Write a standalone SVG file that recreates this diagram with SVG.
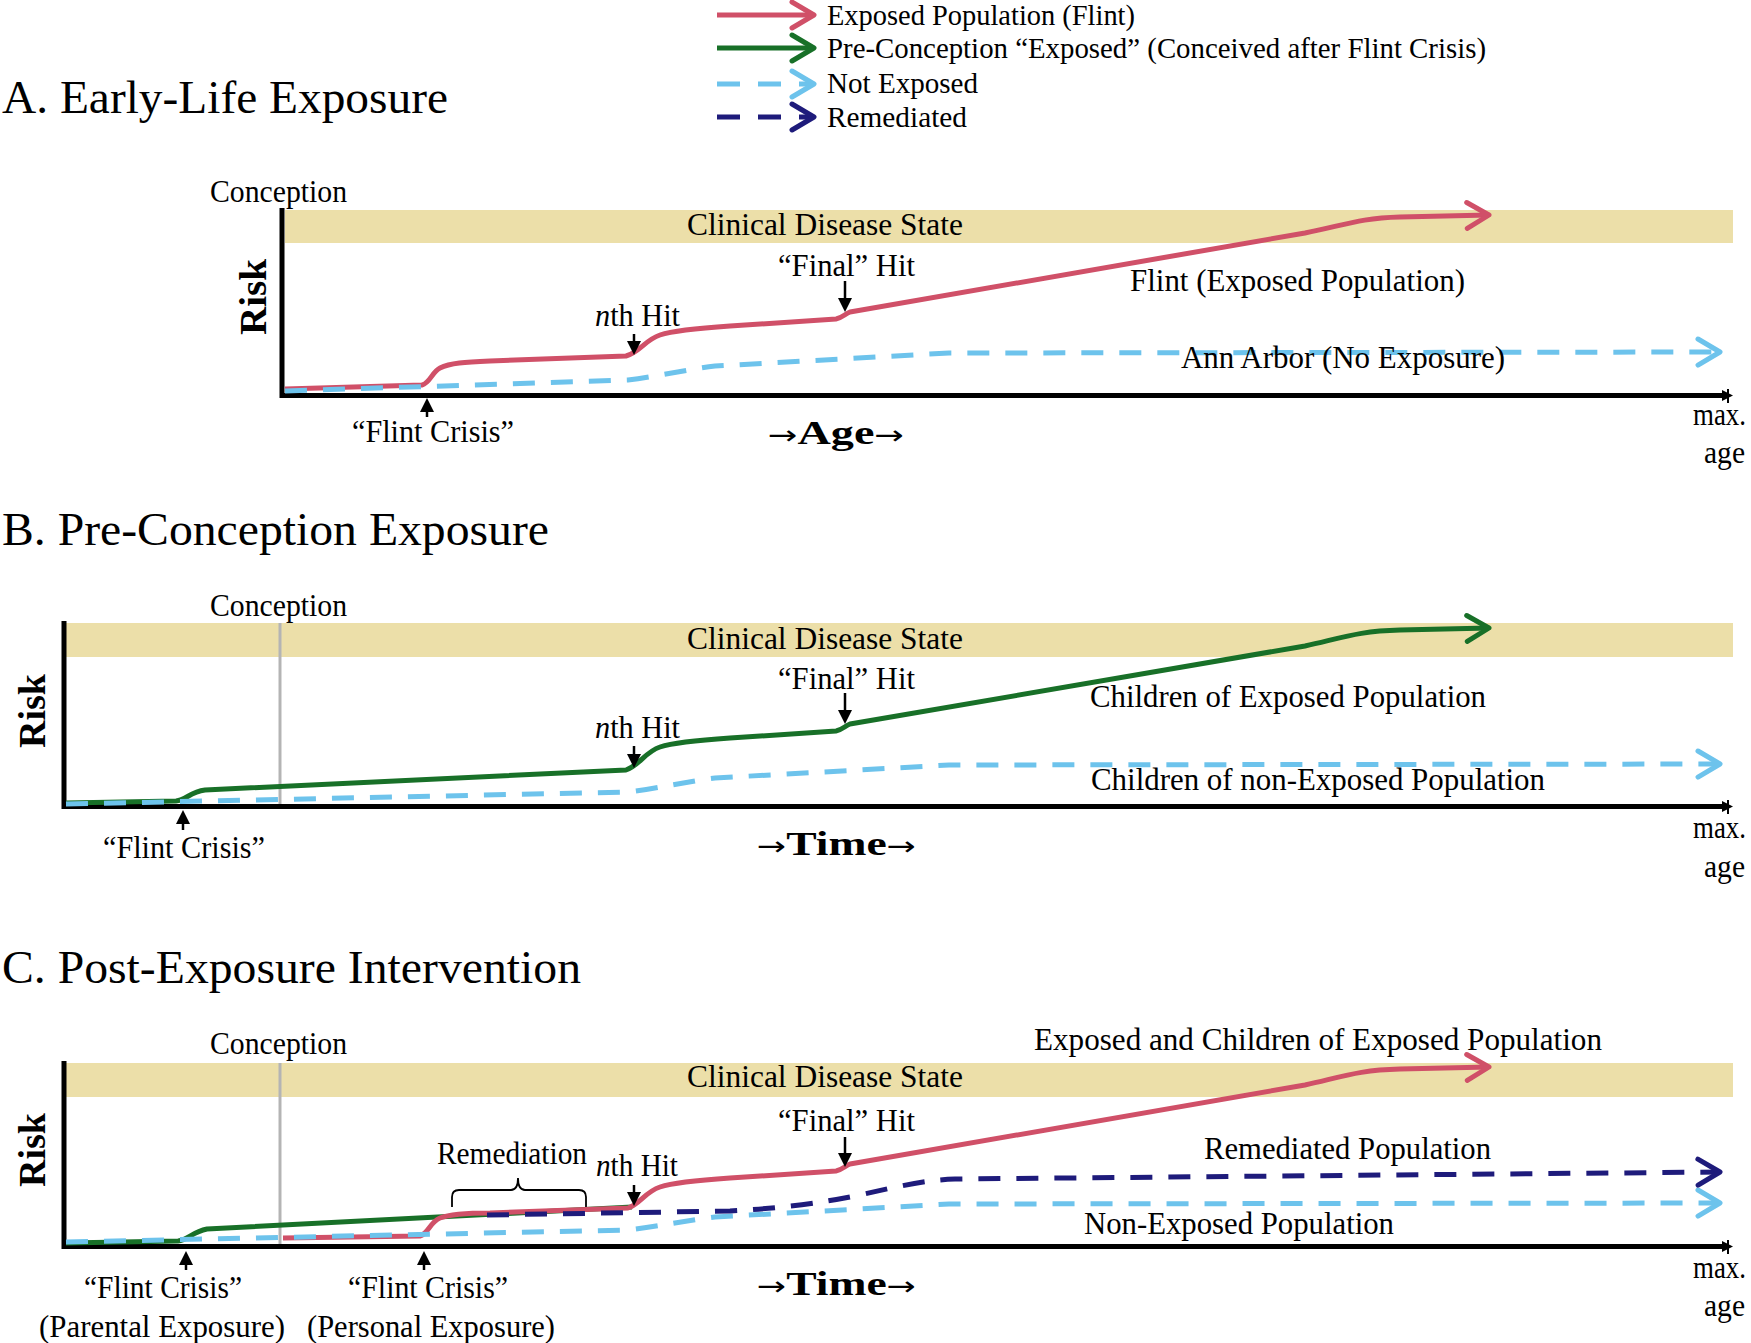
<svg xmlns="http://www.w3.org/2000/svg" width="1751" height="1343" viewBox="0 0 1751 1343">
<style>
text{font-family:"Liberation Serif","Times New Roman",serif;fill:#000}
.t{font-size:47px}
.l{font-size:31px}
.lg{font-size:29px}
.b{font-weight:bold}
.arw{font-family:"DejaVu Sans",sans-serif;font-size:26px;font-weight:normal}
.band{fill:#ECDFA9}
.ax{stroke:#000;stroke-width:5;fill:none}
.cl{stroke:#B4B4B4;stroke-width:3}
.red{stroke:#D05068;stroke-width:5;fill:none;stroke-linejoin:round}
.grn{stroke:#187028;stroke-width:5;fill:none;stroke-linejoin:round}
.lb{stroke:#6DC3EC;stroke-width:5;fill:none;stroke-dasharray:22 16}
.nv{stroke:#1E1B7B;stroke-width:5;fill:none;stroke-dasharray:22 16}
.ar{stroke:#000;stroke-width:2.5;fill:none}
.brace{stroke:#000;stroke-width:1.8;fill:none}
</style>
<defs>
<marker id="mRed" markerUnits="userSpaceOnUse" viewBox="0 0 28 32" refX="25" refY="16" markerWidth="28" markerHeight="32" orient="auto"><path d="M3,3 L25,16 L3,29" fill="none" stroke="#D05068" stroke-width="5" stroke-linecap="round" stroke-linejoin="round"/></marker>
<marker id="mGrn" markerUnits="userSpaceOnUse" viewBox="0 0 28 32" refX="25" refY="16" markerWidth="28" markerHeight="32" orient="auto"><path d="M3,3 L25,16 L3,29" fill="none" stroke="#187028" stroke-width="5" stroke-linecap="round" stroke-linejoin="round"/></marker>
<marker id="mLb" markerUnits="userSpaceOnUse" viewBox="0 0 28 32" refX="25" refY="16" markerWidth="28" markerHeight="32" orient="auto"><path d="M3,3 L25,16 L3,29" fill="none" stroke="#6DC3EC" stroke-width="5" stroke-linecap="round" stroke-linejoin="round"/></marker>
<marker id="mNv" markerUnits="userSpaceOnUse" viewBox="0 0 28 32" refX="25" refY="16" markerWidth="28" markerHeight="32" orient="auto"><path d="M3,3 L25,16 L3,29" fill="none" stroke="#1E1B7B" stroke-width="5" stroke-linecap="round" stroke-linejoin="round"/></marker>
<path id="upArrow" d="M0,0 L-7,14 L7,14 Z"/>
</defs>

<g id="legend">
<line x1="717" y1="15" x2="814" y2="15" class="red" marker-end="url(#mRed)"/>
<text class="lg" x="827" y="25" textLength="308" lengthAdjust="spacingAndGlyphs">Exposed Population (Flint)</text>
<line x1="717" y1="48" x2="814" y2="48" class="grn" marker-end="url(#mGrn)"/>
<text class="lg" x="827" y="58" textLength="659" lengthAdjust="spacingAndGlyphs">Pre-Conception “Exposed” (Conceived after Flint Crisis)</text>
<line x1="717" y1="84" x2="814" y2="84" class="lb" style="stroke-dasharray:23 18" marker-end="url(#mLb)"/>
<text class="lg" x="827" y="93" textLength="151" lengthAdjust="spacingAndGlyphs">Not Exposed</text>
<line x1="717" y1="117" x2="814" y2="117" class="nv" style="stroke-dasharray:23 18" marker-end="url(#mNv)"/>
<text class="lg" x="827" y="127" textLength="140" lengthAdjust="spacingAndGlyphs">Remediated</text>
</g>

<!-- Panel A -->
<g id="panelA">
<text class="t" x="2" y="113" textLength="446" lengthAdjust="spacingAndGlyphs">A. Early-Life Exposure</text>
<rect class="band" x="285" y="210" width="1448" height="33"/>
<text class="l" x="210" y="202" textLength="137" lengthAdjust="spacingAndGlyphs">Conception</text>
<text class="l" x="687" y="235" textLength="276" lengthAdjust="spacingAndGlyphs">Clinical  Disease  State</text>
<path class="ax" d="M282,208 L282,395.5 L1726,395.5"/>
<path d="M1733,395.5 L1722,390 L1722,401 Z"/>
<line x1="1728" y1="389" x2="1728" y2="403" stroke="#000" stroke-width="2"/>
<text class="l b" transform="translate(266,335) rotate(-90)" x="0" y="0" textLength="76" lengthAdjust="spacingAndGlyphs" style="font-size:37px">Risk</text>
<text class="l" x="1693" y="425" textLength="53" lengthAdjust="spacingAndGlyphs">max.</text>
<text class="l" x="1704" y="463" textLength="41" lengthAdjust="spacingAndGlyphs">age</text>
<text class="l" x="352" y="442" textLength="162" lengthAdjust="spacingAndGlyphs">“Flint  Crisis”</text>
<text class="l" x="768" y="444" textLength="136" lengthAdjust="spacingAndGlyphs" style="font-size:34px"><tspan class="arw">→</tspan><tspan class="b">Age</tspan><tspan class="arw">→</tspan></text>
<text class="l" x="595" y="326" textLength="85" lengthAdjust="spacingAndGlyphs"><tspan font-style="italic">n</tspan>th Hit</text>
<text class="l" x="778" y="276" textLength="137" lengthAdjust="spacingAndGlyphs">“Final”  Hit</text>
</g>

<!-- Panel B -->
<g id="panelB">
<text class="t" x="2" y="545" textLength="547" lengthAdjust="spacingAndGlyphs">B. Pre-Conception Exposure</text>
<rect class="band" x="66" y="623" width="1667" height="34"/>
<text class="l" x="210" y="616" textLength="137" lengthAdjust="spacingAndGlyphs">Conception</text>
<text class="l" x="687" y="649" textLength="276" lengthAdjust="spacingAndGlyphs">Clinical  Disease  State</text>
<line class="cl" x1="280" y1="623" x2="280" y2="806"/>
<path class="ax" d="M64,621 L64,806.5 L1726,806.5"/>
<path d="M1733,806.5 L1722,801 L1722,812 Z"/>
<line x1="1728" y1="800" x2="1728" y2="814" stroke="#000" stroke-width="2"/>
<text class="l b" transform="translate(45,748) rotate(-90)" x="0" y="0" textLength="74" lengthAdjust="spacingAndGlyphs" style="font-size:37px">Risk</text>
<text class="l" x="1693" y="838" textLength="53" lengthAdjust="spacingAndGlyphs">max.</text>
<text class="l" x="1704" y="877" textLength="41" lengthAdjust="spacingAndGlyphs">age</text>
<text class="l" x="103" y="858" textLength="162" lengthAdjust="spacingAndGlyphs">“Flint  Crisis”</text>
<text class="l" x="757" y="855" textLength="159" lengthAdjust="spacingAndGlyphs" style="font-size:34px"><tspan class="arw">→</tspan><tspan class="b">Time</tspan><tspan class="arw">→</tspan></text>
<text class="l" x="595" y="738" textLength="85" lengthAdjust="spacingAndGlyphs"><tspan font-style="italic">n</tspan>th Hit</text>
<text class="l" x="778" y="689" textLength="137" lengthAdjust="spacingAndGlyphs">“Final”  Hit</text>
</g>

<!-- Panel C -->
<g id="panelC">
<text class="t" x="2" y="983" textLength="579" lengthAdjust="spacingAndGlyphs">C. Post-Exposure Intervention</text>
<rect class="band" x="66" y="1063" width="1667" height="34"/>
<text class="l" x="210" y="1054" textLength="137" lengthAdjust="spacingAndGlyphs">Conception</text>
<text class="l" x="687" y="1087" textLength="276" lengthAdjust="spacingAndGlyphs">Clinical  Disease  State</text>
<line class="cl" x1="280" y1="1063" x2="280" y2="1246"/>
<path class="ax" d="M64,1061 L64,1246.5 L1726,1246.5"/>
<path d="M1733,1246.5 L1722,1241 L1722,1252 Z"/>
<line x1="1728" y1="1240" x2="1728" y2="1254" stroke="#000" stroke-width="2"/>
<text class="l b" transform="translate(45,1187) rotate(-90)" x="0" y="0" textLength="74" lengthAdjust="spacingAndGlyphs" style="font-size:37px">Risk</text>
<text class="l" x="1693" y="1278" textLength="53" lengthAdjust="spacingAndGlyphs">max.</text>
<text class="l" x="1704" y="1316" textLength="41" lengthAdjust="spacingAndGlyphs">age</text>
<text class="l" x="84" y="1298" textLength="158" lengthAdjust="spacingAndGlyphs">“Flint  Crisis”</text>
<text class="l" x="39" y="1337" textLength="246" lengthAdjust="spacingAndGlyphs">(Parental  Exposure)</text>
<text class="l" x="348" y="1298" textLength="160" lengthAdjust="spacingAndGlyphs">“Flint  Crisis”</text>
<text class="l" x="307" y="1337" textLength="248" lengthAdjust="spacingAndGlyphs">(Personal  Exposure)</text>
<text class="l" x="757" y="1295" textLength="159" lengthAdjust="spacingAndGlyphs" style="font-size:34px"><tspan class="arw">→</tspan><tspan class="b">Time</tspan><tspan class="arw">→</tspan></text>
<text class="l" x="437" y="1164" textLength="150" lengthAdjust="spacingAndGlyphs">Remediation</text>
<path class="brace" d="M452,1207 L452,1197 Q452,1190 459,1190 L511,1190 Q518,1190 518,1178 Q518,1190 525,1190 L579,1190 Q586,1190 586,1197 L586,1207"/>
<text class="l" x="596" y="1176" textLength="82" lengthAdjust="spacingAndGlyphs"><tspan font-style="italic">n</tspan>th Hit</text>
<text class="l" x="778" y="1131" textLength="137" lengthAdjust="spacingAndGlyphs">“Final”  Hit</text>
</g>

<g id="connectors">
<!-- A -->
<path class="red" d="M285,389 L422,385 C430,383 432,372 440,368 C450,363 465,362 490,361 L626,356 C640,352 645,340 660,335 C675,330 700,328 730,326 L836,319 C842,318 845,314 850,312 L1305,233 C1345,225 1360,218 1400,217 L1489,215" marker-end="url(#mRed)"/>
<path class="lb" d="M285,391 L628,380 C660,376 690,369 715,366 L949,353 L1720,352" marker-end="url(#mLb)"/>
<!-- B -->
<path class="grn" d="M66,803 L176,801 C186,800 190,792 205,790 L626,770 C640,765 645,752 660,747 C675,742 700,740 730,738 L836,731 C842,730 845,726 850,724 L1305,646 C1345,637 1360,631 1400,630 L1489,628" marker-end="url(#mGrn)"/>
<path class="lb" d="M66,804 L628,792 C660,788 690,781 715,778 L949,765 L1720,764" marker-end="url(#mLb)"/>
<!-- C -->
<path class="grn" d="M66,1243 L178,1241 C188,1240 192,1232 207,1229 L632,1207"/>
<path class="red" d="M283,1238 L420,1236 C428,1234 430,1222 440,1218 C450,1214 465,1213 490,1213 L628,1208 C640,1204 645,1192 660,1187 C675,1182 700,1180 730,1178 L836,1171 C842,1170 845,1166 850,1164 L1305,1085 C1345,1076 1360,1070 1400,1069 L1489,1067" marker-end="url(#mRed)"/>
<path class="lb" d="M66,1242 L628,1230 C660,1226 690,1220 715,1217 L949,1204 L1720,1203" marker-end="url(#mLb)"/>
<path class="nv" d="M487,1215 L730,1211 C785,1208 820,1203 860,1195 C900,1186 925,1180 955,1179 L1720,1172" marker-end="url(#mNv)"/>
<!-- pointer arrows A -->
<line class="ar" x1="427" y1="417" x2="427" y2="408"/><use href="#upArrow" x="427" y="398"/>
<line class="ar" x1="634" y1="334" x2="634" y2="343"/><use href="#upArrow" transform="translate(634,355) rotate(180)"/>
<line class="ar" x1="845" y1="281" x2="845" y2="300"/><use href="#upArrow" transform="translate(845,312) rotate(180)"/>
<!-- B -->
<line class="ar" x1="183" y1="830" x2="183" y2="821"/><use href="#upArrow" x="183" y="810"/>
<line class="ar" x1="634" y1="746" x2="634" y2="756"/><use href="#upArrow" transform="translate(634,768) rotate(180)"/>
<line class="ar" x1="845" y1="693" x2="845" y2="712"/><use href="#upArrow" transform="translate(845,724) rotate(180)"/>
<!-- C -->
<line class="ar" x1="186" y1="1270" x2="186" y2="1261"/><use href="#upArrow" x="186" y="1251"/>
<line class="ar" x1="424" y1="1270" x2="424" y2="1261"/><use href="#upArrow" x="424" y="1251"/>
<line class="ar" x1="634" y1="1185" x2="634" y2="1194"/><use href="#upArrow" transform="translate(634,1206) rotate(180)"/>
<line class="ar" x1="845" y1="1137" x2="845" y2="1155"/><use href="#upArrow" transform="translate(845,1167) rotate(180)"/>
</g>

<g id="curveLabels">
<text class="l" x="1130" y="291" textLength="335" lengthAdjust="spacingAndGlyphs">Flint  (Exposed  Population)</text>
<text class="l" x="1181" y="368" textLength="324" lengthAdjust="spacingAndGlyphs">Ann Arbor (No Exposure)</text>
<text class="l" x="1090" y="707" textLength="396" lengthAdjust="spacingAndGlyphs">Children  of Exposed  Population</text>
<text class="l" x="1091" y="790" textLength="454" lengthAdjust="spacingAndGlyphs">Children  of non-Exposed  Population</text>
<text class="l" x="1034" y="1050" textLength="568" lengthAdjust="spacingAndGlyphs">Exposed and Children  of Exposed Population</text>
<text class="l" x="1204" y="1159" textLength="287" lengthAdjust="spacingAndGlyphs">Remediated  Population</text>
<text class="l" x="1084" y="1234" textLength="310" lengthAdjust="spacingAndGlyphs">Non-Exposed Population</text>
</g>
</svg>
